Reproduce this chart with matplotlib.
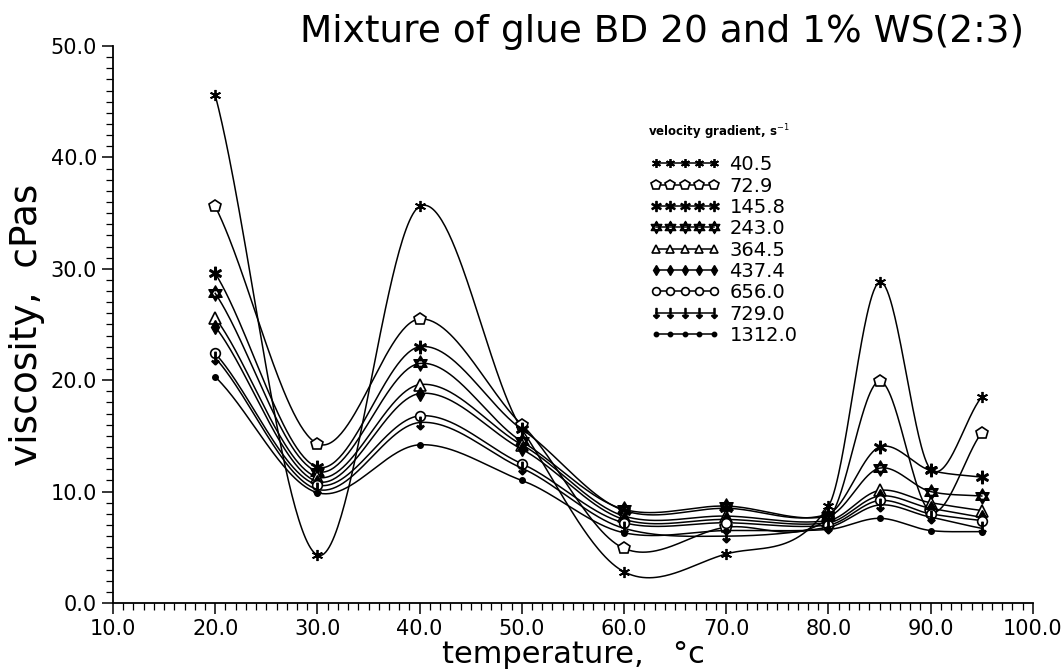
import matplotlib
import numpy as np

matplotlib.use("Agg")
import matplotlib.pyplot as plt  # noqa: E402
from matplotlib.ticker import MultipleLocator, FormatStrFormatter  # noqa: E402

temperature = [20, 30, 40, 50, 60, 70, 80, 85, 90, 95]
gradients = ["40.5", "72.9", "145.8", "243.0", "364.5", "437.4", "656.0", "729.0", "1312.0"]

visc_40_5 = [45.6, 4.3, 35.6, 15.6, 2.8, 4.4, 8.7, 28.8, 12.0, 18.5]
visc_72_9 = [35.6, 14.3, 25.5, 16.0, 4.9, 6.8, 7.6, 19.9, 8.2, 15.3]
visc_145_8 = [29.6, 12.2, 23.0, 15.6, 8.3, 8.5, 8.0, 14.0, 11.9, 11.3]
visc_243_0 = [27.8, 11.8, 21.5, 14.5, 8.4, 8.7, 7.8, 12.1, 10.0, 9.6]
visc_364_5 = [25.6, 11.3, 19.6, 14.2, 7.8, 7.8, 7.4, 10.1, 9.0, 8.3]
visc_437_4 = [24.8, 10.9, 18.8, 13.8, 7.5, 7.5, 7.2, 9.6, 8.5, 7.7]
visc_656_0 = [22.4, 10.6, 16.8, 12.5, 7.2, 7.2, 7.0, 9.2, 8.0, 7.4]
visc_729_0 = [22.0, 10.2, 16.2, 12.1, 6.7, 6.0, 6.8, 8.8, 7.7, 6.7]
visc_1312_0 = [20.3, 9.9, 14.2, 11.0, 6.3, 6.5, 6.6, 7.6, 6.5, 6.4]

series = [visc_40_5, visc_72_9, visc_145_8, visc_243_0, visc_364_5,
          visc_437_4, visc_656_0, visc_729_0, visc_1312_0]

# marker look per series (black & white plotter symbols)
styles = [
    dict(marker=(6, 2, 0), markersize=8, markeredgewidth=1.3),
    dict(marker="p", markersize=9, markerfacecolor="white", markeredgewidth=1.2),
    dict(marker="$\\ast$", markersize=9),
    dict(marker="$\u2721$", markersize=11),
    dict(marker="^", markersize=8, markerfacecolor="white", markeredgewidth=1.2),
    dict(marker="d", markersize=7),
    dict(marker="o", markersize=7, markerfacecolor="white", markeredgewidth=1.2),
    dict(marker="$\\downarrow$", markersize=9),
    dict(marker="o", markersize=4),
]


def smooth_curve(x, y, per_seg=60, tension=0.85):
    # cubic Hermite, Catmull-Rom style tangents (slightly damped)
    x = np.asarray(x, dtype=float)
    y = np.asarray(y, dtype=float)
    n = x.size
    m = np.empty(n)
    m[0] = (y[1] - y[0]) / (x[1] - x[0])
    m[-1] = (y[-1] - y[-2]) / (x[-1] - x[-2])
    m[1:-1] = (y[2:] - y[:-2]) / (x[2:] - x[:-2])
    m *= tension
    xs_all, ys_all = [], []
    for i in range(n - 1):
        h = x[i + 1] - x[i]
        t = np.linspace(0, 1, per_seg, endpoint=(i == n - 2))
        h00 = 2 * t ** 3 - 3 * t ** 2 + 1
        h10 = t ** 3 - 2 * t ** 2 + t
        h01 = -2 * t ** 3 + 3 * t ** 2
        h11 = t ** 3 - t ** 2
        xs_all.append(x[i] + t * h)
        ys_all.append(h00 * y[i] + h10 * h * m[i] + h01 * y[i + 1] + h11 * h * m[i + 1])
    return np.concatenate(xs_all), np.concatenate(ys_all)


fig = plt.figure(figsize=(10.61, 6.71), dpi=100)
ax = fig.add_axes([0.1065, 0.1014, 0.867, 0.830])

handles = []
for vals, st, lab in zip(series, styles, gradients):
    xs, ys = smooth_curve(temperature, vals)
    ax.plot(xs, ys, color="black", linewidth=1.1)
    ax.plot(temperature, vals, linestyle="none", color="black", **st)
    (h,) = ax.plot([], [], color="black", linewidth=1.1, label=lab, **st)
    handles.append(h)

ax.set_xlim(10, 100)
ax.set_ylim(0, 50)
ax.xaxis.set_major_locator(MultipleLocator(10))
ax.xaxis.set_minor_locator(MultipleLocator(1))
ax.yaxis.set_major_locator(MultipleLocator(10))
ax.yaxis.set_minor_locator(MultipleLocator(1))
ax.xaxis.set_major_formatter(FormatStrFormatter("%.1f"))
ax.yaxis.set_major_formatter(FormatStrFormatter("%.1f"))
for side in ("top", "right"):
    ax.spines[side].set_visible(False)
ax.spines["left"].set_linewidth(1.3)
ax.spines["bottom"].set_linewidth(1.3)
ax.tick_params(axis="both", which="major", direction="out", length=8, width=1.1, labelsize=15)
ax.tick_params(axis="both", which="minor", direction="out", length=5, width=0.9)

ax.set_xlabel("temperature,   \u00b0c", fontsize=22, labelpad=1)
ax.set_ylabel("viscosity,  cPas", fontsize=27, labelpad=4)

fig.text(0.624, 0.953, "Mixture of glue BD 20 and 1% WS(2:3)", fontsize=27,
         ha="center", va="center")
fig.text(648 / 1061, 1 - 132 / 671, "velocity gradient, s$^{-1}$", fontsize=8.5,
         fontweight="bold", ha="left", va="center")

leg = ax.legend(handles=handles, loc="upper left", bbox_to_anchor=(0.575, 0.818),
                numpoints=5, handlelength=3.6, frameon=False, fontsize=14,
                labelspacing=0.12, handletextpad=0.5, markerscale=0.8,
                borderaxespad=0.0)

fig.savefig("out.png", dpi=100)
